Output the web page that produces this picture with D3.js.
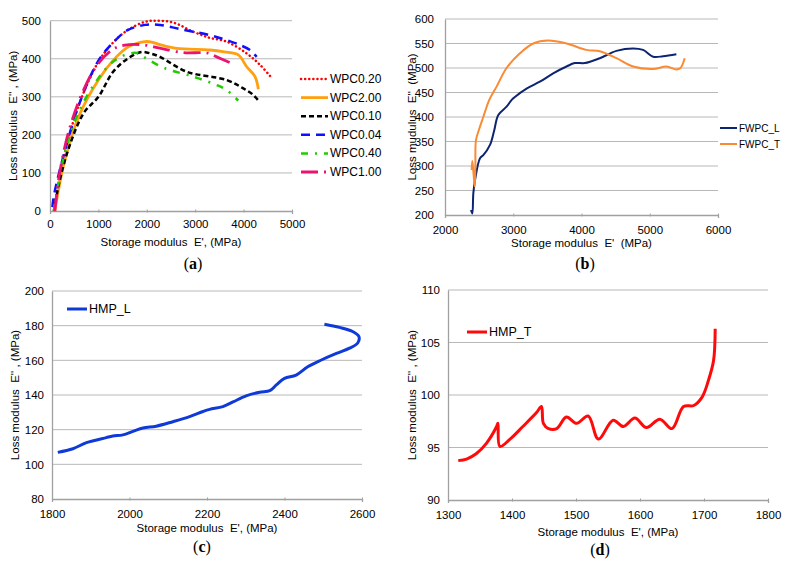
<!DOCTYPE html>
<html>
<head>
<meta charset="utf-8">
<script src="https://cdn.jsdelivr.net/npm/d3@7"></script>
<style>
  body { margin: 0; background: #fff; }
  text { font-family: "Liberation Sans", Arial, sans-serif; fill: #000; }
  .plabel { font-family: "Liberation Serif", "DejaVu Serif", serif; font-size: 16px; }
</style>
</head>
<body>
<div id="chart"></div>
<script>
// values: [storage modulus E', loss modulus E'']

// (a) WPC series
const wpc020 = [[100,20],[300,150],[600,280],[1000,392],[1300,442],[1600,475],[1963,497],[2200,500],[2548,495],[2961,471],[3300,455],[3650,445],[4064,414],[4339,384],[4545,355]];
const wpc200 = [[100,0],[300,130],[600,250],[1000,344],[1300,395],[1600,430],[1963,445],[2100,444],[2273,437],[2617,427],[3306,423],[3600,418],[3890,410],[4064,379],[4236,353],[4305,320]];
const wpc010 = [[80,0],[200,80],[400,170],[700,258],[1000,300],[1300,365],[1600,400],[1894,418],[2100,413],[2273,405],[2824,366],[3650,344],[3994,322],[4200,305],[4305,290]];
const wpc004 = [[50,10],[80,40],[300,155],[600,280],[1000,395],[1300,442],[1600,475],[1963,489],[2273,489],[2686,478],[3306,462],[3650,449],[3926,436],[4132,423],[4270,405]];
const wpc040 = [[80,0],[300,150],[600,262],[1000,349],[1300,392],[1550,410],[1800,415],[2000,400],[2376,375],[2961,353],[3444,331],[3650,318],[3890,290]];
const wpc100 = [[100,0],[200,100],[400,215],[700,320],[1000,388],[1300,425],[1550,436],[1900,437],[2270,428],[2750,416],[3100,416],[3265,415],[3444,405],[3754,388]];

// (b) FWPC series
const fwpcL = [[2381,210],[2400,203],[2415,244],[2440,271],[2513,316],[2561,322],[2659,343],[2720,372],[2781,404],[2902,421],[2977,435],[3024,441],[3195,458],[3390,472],[3585,489],[3780,503],[3902,510],[4049,510],[4268,520],[4512,535],[4756,540],[4902,537],[5049,523],[5195,524],[5390,528]];
const fwpcT = [[2391,292],[2400,310],[2415,290],[2435,258],[2445,300],[2454,353],[2500,375],[2561,400],[2649,435],[2756,462],[2902,500],[3098,530],[3293,550],[3512,556],[3780,550],[4073,537],[4268,534],[4512,520],[4756,503],[5049,498],[5244,503],[5390,497],[5450,500],[5512,520]];

// (c) HMP_L
const hmpL = [[1815,106.9],[1854,109],[1889,112.5],[1940,115.4],[1957,116.3],[1983,117],[2009,119],[2035,121],[2069,122],[2112,124.6],[2155,127.5],[2190,130.5],[2207,131.7],[2241,133.3],[2267,136],[2301,139.5],[2336,141.6],[2362,142.5],[2379,145.8],[2400,149.6],[2430,151.5],[2460,156.3],[2495,160.2],[2534,164],[2568,167],[2589,170],[2592,173.7],[2577,176.5],[2542,179],[2503,180.8]];

// (d) HMP_T
const hmpT = [[1316,93.75],[1329,93.9],[1344,94.4],[1360,95.4],[1376,97],[1378,97.3],[1381,95.1],[1397,95.8],[1417,97],[1438,98.3],[1446,98.9],[1449,97.3],[1457,96.8],[1470,96.8],[1485,97.9],[1501,97.3],[1519,98],[1535,95.8],[1558,97.6],[1574,97],[1592,97.8],[1610,96.9],[1631,97.7],[1650,96.8],[1668,98.9],[1684,99],[1697,99.8],[1707,101.4],[1715,103.3],[1717.5,106.3]];

// tick values
const ticksAx = [0, 1000, 2000, 3000, 4000, 5000];
const ticksAy = [0, 100, 200, 300, 400, 500];
const ticksBx = [2000, 3000, 4000, 5000, 6000];
const ticksBy = [200, 250, 300, 350, 400, 450, 500, 550, 600];
const ticksCx = [1800, 2000, 2200, 2400, 2600];
const ticksCy = [80, 100, 120, 140, 160, 180, 200];
const ticksDx = [1300, 1400, 1500, 1600, 1700, 1800];
const ticksDy = [90, 95, 100, 105, 110];

const svg = d3.select("#chart")
              .append("svg")
              .attr("width", 787)
              .attr("height", 563);

function drawPanel(p) {
    const x = d3.scaleLinear().domain(d3.extent(p.xt)).range([p.left, p.right]);
    const y = d3.scaleLinear().domain(d3.extent(p.yt)).range([p.bottom, p.top]);
    const g = svg.append("g");

    // gridlines
    g.selectAll(".grid")
     .data(p.yt.slice(1))
     .enter()
     .append("line")
      .attr("x1", p.left).attr("x2", p.right)
      .attr("y1", d => y(d)).attr("y2", d => y(d))
      .attr("stroke", "#b8b8b8").attr("stroke-width", 1);

    // axes
    const xa = g.append("g")
                .attr("transform", `translate(0,${p.bottom})`)
                .call(d3.axisBottom(x).tickValues(p.xt).tickSize(3).tickPadding(p.xpad).tickFormat(d3.format("d")));
    const ya = g.append("g")
                .attr("transform", `translate(${p.left},0)`)
                .call(d3.axisLeft(y).tickValues(p.yt).tickSize(0).tickPadding(p.ypad).tickFormat(d3.format("d")));
    [xa, ya].forEach(a => {
        a.select(".domain").attr("stroke", "#a0a0a0").attr("stroke-width", 1.3);
        a.selectAll(".tick line").attr("stroke", "#a0a0a0").attr("transform", "translate(0,-1.5)");
        a.selectAll("text").style("font-size", "11.5px").attr("fill", "#000");
    });

    // axis titles
    g.append("text")
     .attr("x", (p.left + p.right) / 2 + p.xtOff)
     .attr("y", p.xtY)
     .attr("text-anchor", "middle")
     .style("font-size", "11.5px")
     .style("white-space", "pre")
     .text(p.xTitle);
    g.append("text")
     .attr("transform", `translate(${p.ytX},${(p.top + p.bottom) / 2}) rotate(-90)`)
     .attr("text-anchor", "middle")
     .style("font-size", "11.5px")
     .style("white-space", "pre")
     .text(p.yTitle);

    // panel label
    const lab = g.append("text")
                 .attr("class", "plabel")
                 .attr("x", p.labX).attr("y", p.labY)
                 .attr("text-anchor", "middle");
    lab.append("tspan").text("(");
    lab.append("tspan").style("font-weight", "bold").text(p.letter);
    lab.append("tspan").text(")");

    const line = d3.line()
                   .x(d => x(d[0]))
                   .y(d => y(d[1]))
                   .curve(d3.curveCatmullRom.alpha(0.5));

    p.series.forEach(s => {
        g.append("path")
         .datum(s.data)
         .attr("d", line)
         .attr("fill", "none")
         .attr("stroke", s.color)
         .attr("stroke-width", s.width)
         .attr("stroke-dasharray", s.dash || null)
         .attr("stroke-linecap", s.cap || "butt");
    });

    // legend
    p.series.forEach((s, i) => {
        const ly = p.legY + i * p.legStep;
        g.append("line")
         .attr("x1", p.legX).attr("x2", p.legX + p.legLen)
         .attr("y1", ly).attr("y2", ly)
         .attr("stroke", s.color)
         .attr("stroke-width", s.width)
         .attr("stroke-dasharray", s.dash || null)
         .attr("stroke-linecap", s.cap || "butt");
        g.append("text")
         .attr("x", p.legX + p.legLen + 2)
         .attr("y", ly + 4)
         .style("font-size", p.legFont)
         .text(s.name);
    });
}

drawPanel({
    left: 50, right: 292, top: 20.7, bottom: 211,
    xt: ticksAx, yt: ticksAy, xpad: 6, ypad: 9,
    xTitle: "Storage modulus  E', (MPa)", xtY: 246, xtOff: 0,
    yTitle: "Loss modulus  E'' , (MPa)", ytX: 17,
    letter: "a", labX: 193, labY: 269,
    legX: 301, legLen: 27, legY: 79, legStep: 18.6, legFont: "12px",
    series: [
        {name: "WPC0.20", data: wpc020, color: "#ff0000", width: 2.5, dash: "0.1,4", cap: "round"},
        {name: "WPC2.00", data: wpc200, color: "#ffa010", width: 2.8},
        {name: "WPC0.10", data: wpc010, color: "#000000", width: 2.5, dash: "5,3"},
        {name: "WPC0.04", data: wpc004, color: "#1010ff", width: 2.5, dash: "9,6"},
        {name: "WPC0.40", data: wpc040, color: "#22cc00", width: 2.5, dash: "7,7,2,7"},
        {name: "WPC1.00", data: wpc100, color: "#ec1270", width: 2.8, dash: "17,6,2,6"}
    ]
});

drawPanel({
    left: 445, right: 718, top: 19, bottom: 215,
    xt: ticksBx, yt: ticksBy, xpad: 8, ypad: 11,
    xTitle: "Storage modulus  E'  (MPa)", xtY: 247, xtOff: 0,
    yTitle: "Loss mudulus  E''  (MPa)", ytX: 416,
    letter: "b", labX: 585, labY: 269,
    legX: 720, legLen: 17, legY: 128, legStep: 16, legFont: "10px",
    series: [
        {name: "FWPC_L", data: fwpcL, color: "#0d2470", width: 2},
        {name: "FWPC_T", data: fwpcT, color: "#fa8a34", width: 2}
    ]
});

drawPanel({
    left: 52, right: 362, top: 291, bottom: 499,
    xt: ticksCx, yt: ticksCy, xpad: 8, ypad: 8,
    xTitle: "Storage modulus  E', (MPa)", xtY: 532, xtOff: 0,
    yTitle: "Loss modulus  E'' , (MPa)", ytX: 19,
    letter: "c", labX: 202, labY: 552,
    legX: 67, legLen: 20, legY: 309, legStep: 16, legFont: "12.5px",
    series: [
        {name: "HMP_L", data: hmpL, color: "#0f3ad8", width: 3}
    ]
});

drawPanel({
    left: 448, right: 768, top: 290, bottom: 500,
    xt: ticksDx, yt: ticksDy, xpad: 8, ypad: 8,
    xTitle: "Storage modulus  E', (MPa)", xtY: 536, xtOff: 0,
    yTitle: "Loss modulus  E'' , (MPa)", ytX: 416,
    letter: "d", labX: 600, labY: 555,
    legX: 467, legLen: 20, legY: 332, legStep: 16, legFont: "12.5px",
    series: [
        {name: "HMP_T", data: hmpT, color: "#ff0a0a", width: 3}
    ]
});
</script>
</body>
</html>
